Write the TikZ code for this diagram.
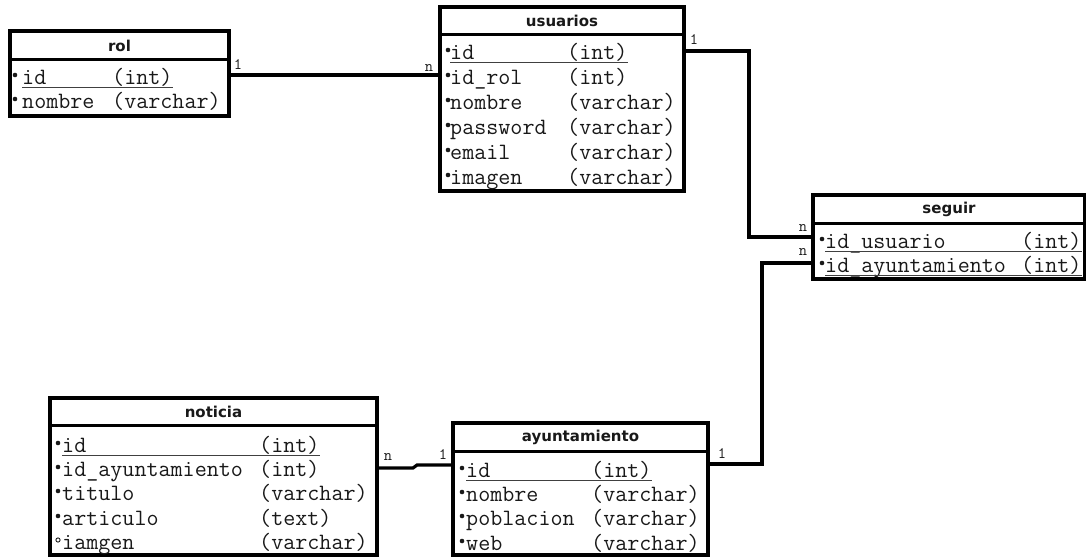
\documentclass[tikz,border=0pt]{standalone}
\usepackage{fontspec}
\newfontfamily\headfont{DejaVu Sans}
\usetikzlibrary{calc}
\definecolor{ink}{gray}{0.1}
\tikzset{
  frame/.style={draw=black, line width=3.2pt, inner sep=0pt, outer sep=0pt, fill=white},
  sep/.style={draw=black, line width=3pt},
  title/.style={font=\headfont\bfseries\fontsize{15}{15}\selectfont, text=ink, inner sep=0pt},
  fld/.style={font=\ttfamily\fontsize{23.4}{23.4}\selectfont, text=ink, anchor=base west, inner sep=0pt},
  uline/.style={draw=black!75, line width=1pt},
  bullet/.style={fill=ink},
  obullet/.style={draw=ink, line width=0.9pt},
  link/.style={draw=black, line width=3.2pt},
  card/.style={font=\ttfamily\fontsize{16}{16}\selectfont, text=ink, inner sep=0pt}
}
\begin{document}
\begin{tikzpicture}[x=1pt,y=-1pt]
\useasboundingbox (0,0) rectangle (1086,557);

% ---------- rol ----------
\node[frame, anchor=north west, minimum width=219, minimum height=85] (rol) at (10,31) {};
\draw[sep] (10,59) -- (229,59);
\node[title] (rolT) at (119.5,45.5) {rol};
\fill[bullet] (15,75) circle (2.3);
\node[fld] (rolA) at (22,84) {id};
\node[fld] (rolAt) at (112,84) {(int)};
\draw[uline] ([yshift=-3pt]rolA.base west) -- ([yshift=-3pt]rolAt.base east);
\fill[bullet] (15,99) circle (2.3);
\node[fld] (rolB) at (22,108) {nombre};
\node[fld] (rolBt) at (112,108) {(varchar)};

% ---------- usuarios ----------
\node[frame, anchor=north west, minimum width=244, minimum height=184] (usu) at (440,7) {};
\draw[sep] (440,34) -- (684,34);
\node[title] (usuT) at (562,21) {usuarios};
\fill[bullet] (448,50) circle (2.3);
\node[fld] (usuA) at (450,59) {id};
\node[fld] (usuAt) at (567,59) {(int)};
\draw[uline] ([yshift=-3pt]usuA.base west) -- ([yshift=-3pt]usuAt.base east);
\fill[bullet] (448,75) circle (2.3);
\node[fld] (usuB) at (450,84) {id\_rol};
\node[fld] (usuBt) at (567,84) {(int)};
\fill[bullet] (448,100) circle (2.3);
\node[fld] (usuC) at (450,109) {nombre};
\node[fld] (usuCt) at (567,109) {(varchar)};
\fill[bullet] (448,125) circle (2.3);
\node[fld] (usuD) at (450,134) {password};
\node[fld] (usuDt) at (567,134) {(varchar)};
\fill[bullet] (448,150) circle (2.3);
\node[fld] (usuE) at (450,159) {email};
\node[fld] (usuEt) at (567,159) {(varchar)};
\fill[bullet] (448,175) circle (2.3);
\node[fld] (usuF) at (450,184) {imagen};
\node[fld] (usuFt) at (567,184) {(varchar)};

% ---------- seguir ----------
\node[frame, anchor=north west, minimum width=272, minimum height=84] (seg) at (813,195) {};
\draw[sep] (813,223) -- (1085,223);
\node[title] (segT) at (949,209) {seguir};
\fill[bullet] (822,239) circle (2.3);
\node[fld] (segA) at (825,248) {id\_usuario};
\node[fld] (segAt) at (1021,248) {(int)};
\draw[uline] ([yshift=-3pt]segA.base west) -- ([yshift=-3pt]segAt.base east);
\fill[bullet] (822,263) circle (2.3);
\node[fld] (segB) at (825,272) {id\_ayuntamiento};
\node[fld] (segBt) at (1021,272) {(int)};
\draw[uline] ([yshift=-3pt]segB.base west) -- ([yshift=-3pt]segBt.base east);

% ---------- noticia ----------
\node[frame, anchor=north west, minimum width=327, minimum height=157] (not) at (50,398) {};
\draw[sep] (50,425) -- (377,425);
\node[title] (notT) at (213.5,411.5) {noticia};
\fill[bullet] (58,443) circle (2.3);
\node[fld] (notA) at (62,452) {id};
\node[fld] (notAt) at (259,452) {(int)};
\draw[uline] ([yshift=-3pt]notA.base west) -- ([yshift=-3pt]notAt.base east);
\fill[bullet] (58,467) circle (2.3);
\node[fld] (notB) at (62,476) {id\_ayuntamiento};
\node[fld] (notBt) at (259,476) {(int)};
\fill[bullet] (58,491) circle (2.3);
\node[fld] (notC) at (62,500) {titulo};
\node[fld] (notCt) at (259,500) {(varchar)};
\fill[bullet] (58,516) circle (2.3);
\node[fld] (notD) at (62,525) {articulo};
\node[fld] (notDt) at (259,525) {(text)};
\draw[obullet] (58,540) circle (2.1);
\node[fld] (notE) at (62,549) {iamgen};
\node[fld] (notEt) at (259,549) {(varchar)};

% ---------- ayuntamiento ----------
\node[frame, anchor=north west, minimum width=255, minimum height=132] (ayu) at (453,423) {};
\draw[sep] (453,451) -- (708,451);
\node[title] (ayuT) at (580.5,437) {ayuntamiento};
\fill[bullet] (462,468) circle (2.3);
\node[fld] (ayuA) at (466,477) {id};
\node[fld] (ayuAt) at (591,477) {(int)};
\draw[uline] ([yshift=-3pt]ayuA.base west) -- ([yshift=-3pt]ayuAt.base east);
\fill[bullet] (462,492) circle (2.3);
\node[fld] (ayuB) at (466,501) {nombre};
\node[fld] (ayuBt) at (591,501) {(varchar)};
\fill[bullet] (462,516) circle (2.3);
\node[fld] (ayuC) at (466,525) {poblacion};
\node[fld] (ayuCt) at (591,525) {(varchar)};
\fill[bullet] (462,541) circle (2.3);
\node[fld] (ayuD) at (466,550) {web};
\node[fld] (ayuDt) at (591,550) {(varchar)};

% ---------- relationships ----------
% rol 1 -- n usuarios
\draw[link] (rol.east |- 0,75) -- (usu.west |- 0,75);
\node[card] (c1) at (238,65) {1};
\node[card] (c2) at (429,68) {n};

% usuarios 1 -- n seguir
\coordinate (k1) at (749,51);
\coordinate (k2) at (749,237);
\draw[link] (usu.east |- k1) -- (k1) -- (k2) -- (seg.west |- k2);
\node[card] (c3) at (694,40) {1};
\node[card] (c4) at (803,228) {n};

% ayuntamiento 1 -- n seguir
\coordinate (k3) at (762,464);
\coordinate (k4) at (762,263);
\draw[link] (ayu.east |- k3) -- (k3) -- (k4) -- (seg.west |- k4);
\node[card] (c5) at (722,454) {1};
\node[card] (c6) at (803,252) {n};

% ayuntamiento 1 -- n noticia
\coordinate (k5) at (413,468);
\coordinate (k6) at (417,465);
\draw[link] (not.east |- k5) -- (k5) -- (k6) -- (ayu.west |- k6);
\node[card] (c7) at (388,457) {n};
\node[card] (c8) at (443,455) {1};
\end{tikzpicture}
\end{document}
